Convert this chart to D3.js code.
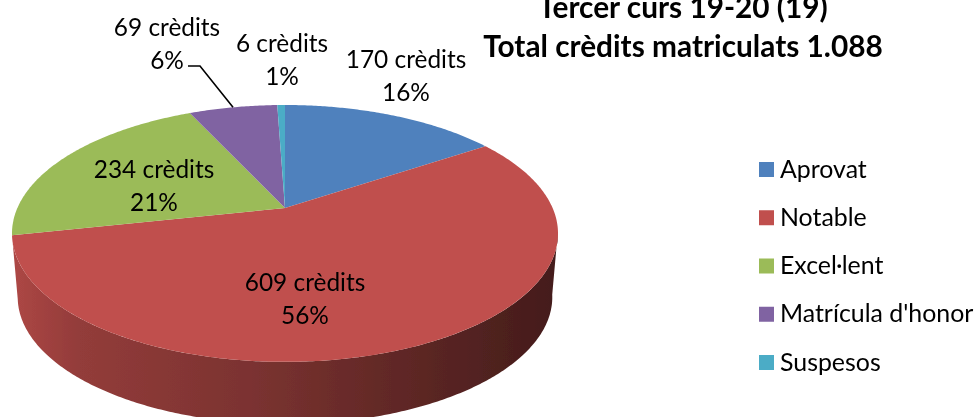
<!DOCTYPE html>
<html>
<head>
<meta charset="utf-8">
<script src="https://cdnjs.cloudflare.com/ajax/libs/d3/7.8.5/d3.min.js"></script>
<style>
  html, body { margin: 0; padding: 0; background: #fff; overflow: hidden; }
  text { font-family: Lato, "Open Sans", sans-serif; fill: #000; }
</style>
</head>
<body>
<svg id="chart" width="978" height="417"></svg>
<script>
const categories = ["Aprovat", "Notable", "Excel·lent", "Matrícula d'honor", "Suspesos"];
const credits = [170, 609, 234, 69, 6];
const percents = ["16%", "56%", "21%", "6%", "1%"];
const colors = ["#4f81bd", "#c0504d", "#9bbb59", "#8064a2", "#4bacc6"];
const titleLines = ["Tercer curs 19-20 (19)", "Total crèdits matriculats 1.088"];

// label anchors, same order as categories
const labelPos = [[406, 68], [305, 291], [154, 178], [167, 36], [282, 52]];

const svg = d3.select("#chart");
const defs = svg.append("defs");
defs.append("filter").attr("id", "soft")
    .attr("x", "-5%").attr("y", "-5%").attr("width", "110%").attr("height", "110%")
  .append("feGaussianBlur").attr("stdDeviation", 0.6);
defs.append("filter").attr("id", "softText")
    .attr("x", "-5%").attr("y", "-5%").attr("width", "110%").attr("height", "110%")
  .append("feGaussianBlur").attr("stdDeviation", 0.35);

const wallGrad = defs.append("linearGradient").attr("id", "wall")
    .attr("gradientUnits", "userSpaceOnUse")
    .attr("x1", 13).attr("x2", 556).attr("y1", 0).attr("y2", 0);
[[0, "#ad4745"], [0.12, "#933c3a"], [0.45, "#7a3230"], [0.75, "#5c2624"], [1, "#441c1b"]]
  .forEach(s => wallGrad.append("stop").attr("offset", s[0]).attr("stop-color", s[1]));

// perspective projection of the tilted disc (excel style 3d pie)
const persp = 0.198;
function project(angle, r, plane) {
  const u = r * Math.sin(angle), v = -r * Math.cos(angle);
  const w = 1 - persp * v;
  return [plane.x + plane.a * u / w, plane.y + plane.b * v / w];
}
const topPlane = {x: 285, y: 208, a: 267.6, b: 123.4};
const basePlane = {x: 285, y: 272, a: 262, b: 122};

const arcs = d3.pie().sort(null).value(d => d)(credits);
const line = d3.line();

function arcPoints(a0, a1, plane) {
  const n = Math.max(2, Math.ceil((a1 - a0) / 0.01));
  return d3.range(n + 1).map(i => project(a0 + (a1 - a0) * i / n, 1, plane));
}

const pie3d = svg.append("g").attr("filter", "url(#soft)");

// only the front of the side wall shows, and it all belongs to the red slice
const wallFrom = 1.75, wallTo = arcs[1].endAngle;
pie3d.append("path")
    .attr("d", line(arcPoints(wallFrom, wallTo, topPlane)
      .concat(arcPoints(wallFrom, wallTo, basePlane).reverse())) + "Z")
    .attr("fill", "url(#wall)");

pie3d.selectAll("path.slice")
  .data(arcs)
  .join("path")
    .attr("class", "slice")
    .attr("d", d => line([[topPlane.x, topPlane.y]].concat(arcPoints(d.startAngle, d.endAngle, topPlane))) + "Z")
    .attr("fill", (d, i) => colors[i]);

// leader for the purple slice
const mid = (arcs[3].startAngle + arcs[3].endAngle) / 2;
svg.append("path")
    .attr("d", line([[188, 66], [200, 66], project(mid, 1, topPlane)]))
    .attr("fill", "none").attr("stroke", "#000").attr("stroke-width", 1.6);

const textLayer = svg.append("g").attr("filter", "url(#softText)");

const labels = textLayer.selectAll("g.label")
  .data(arcs)
  .join("g")
    .attr("class", "label")
    .attr("font-size", 24.4);
labels.append("text")
    .attr("x", (d, i) => labelPos[i][0]).attr("y", (d, i) => labelPos[i][1])
    .attr("text-anchor", "middle")
    .text(d => d.data + " crèdits");
labels.append("text")
    .attr("x", (d, i) => labelPos[i][0]).attr("y", (d, i) => labelPos[i][1] + 32.5)
    .attr("text-anchor", "middle")
    .text((d, i) => percents[i]);

textLayer.selectAll("text.title")
  .data(titleLines)
  .join("text")
    .attr("class", "title")
    .attr("x", 683).attr("y", (d, i) => 18 + i * 39)
    .attr("text-anchor", "middle")
    .attr("font-size", 29.8).attr("font-weight", 700)
    .text(d => d);

const legendY = d3.scalePoint().domain(categories).range([169.5, 362.5]);
const legend = textLayer.selectAll("g.legend")
  .data(categories)
  .join("g")
    .attr("class", "legend")
    .attr("transform", d => `translate(0,${legendY(d)})`);
legend.append("rect")
    .attr("x", 759).attr("y", -7.5).attr("width", 15).attr("height", 15)
    .attr("fill", (d, i) => colors[i]);
legend.append("text")
    .attr("x", 780).attr("y", 8)
    .attr("font-size", 24.9)
    .text(d => d);
</script>
</body>
</html>
